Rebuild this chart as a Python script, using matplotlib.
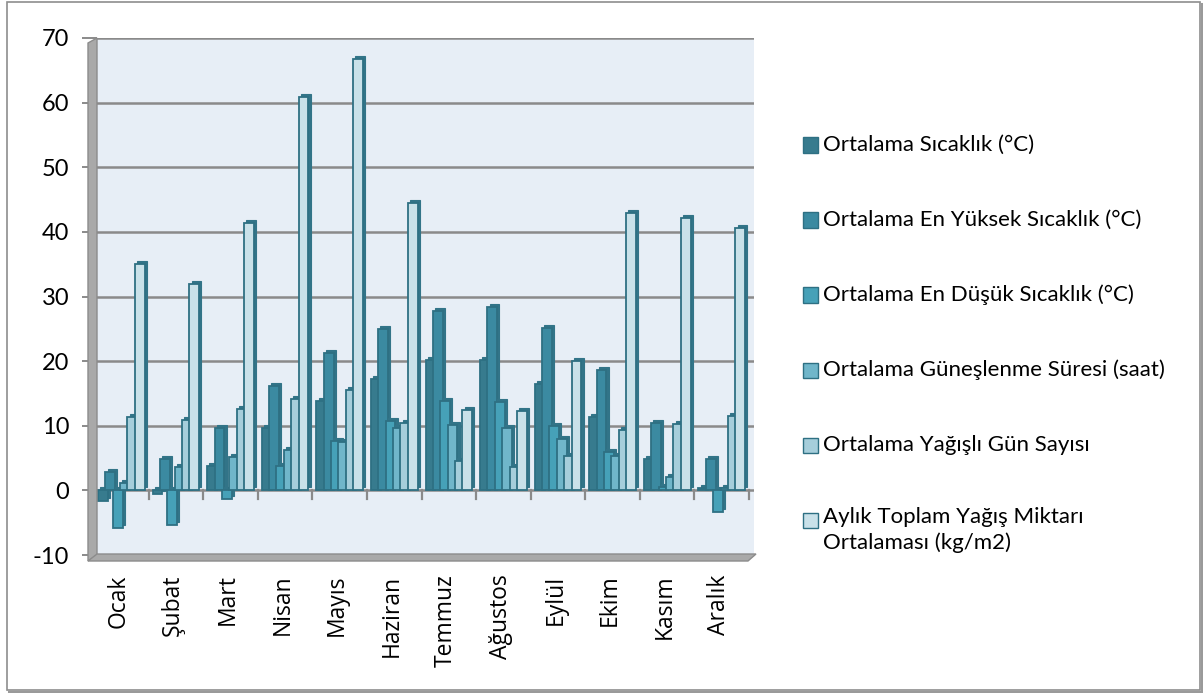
import matplotlib
matplotlib.use("Agg")
import matplotlib.pyplot as plt
from matplotlib.patches import Rectangle, Polygon
from matplotlib.lines import Line2D
import numpy as np

months = ["Ocak", "Şubat", "Mart", "Nisan", "Mayıs", "Haziran",
          "Temmuz", "Ağustos", "Eylül", "Ekim", "Kasım", "Aralık"]

series_names = [
    "Ortalama Sıcaklık (°C)",
    "Ortalama En Yüksek Sıcaklık (°C)",
    "Ortalama En Düşük Sıcaklık (°C)",
    "Ortalama Güneşlenme Süresi (saat)",
    "Ortalama Yağışlı Gün Sayısı",
    "Aylık Toplam Yağış Miktarı\nOrtalaması (kg/m2)",
]

avg_temp = [-1.6, -0.5, 3.7, 9.6, 13.9, 17.3, 20.2, 20.2, 16.5, 11.4, 4.9, 0.4]
avg_high = [2.8, 4.9, 9.7, 16.2, 21.2, 24.9, 27.8, 28.4, 25.1, 18.7, 10.5, 4.8]
avg_low = [-5.8, -5.3, -1.4, 3.7, 7.6, 10.8, 13.8, 13.6, 9.9, 5.9, 0.5, -3.4]
sunshine = [1.2, 3.6, 5.1, 6.2, 7.5, 9.6, 10.1, 9.6, 8.0, 5.3, 2.1, 0.4]
rain_days = [11.3, 10.9, 12.6, 14.2, 15.6, 10.4, 4.5, 3.6, 5.3, 9.4, 10.2, 11.5]
rain_total = [35.0, 32.0, 41.3, 60.9, 66.7, 44.5, 12.4, 12.3, 20.0, 42.9, 42.1, 40.6]

values = [avg_temp, avg_high, avg_low, sunshine, rain_days, rain_total]
y_ticks = [-10, 0, 10, 20, 30, 40, 50, 60, 70]

face_colors = ["#377B8E", "#3B8AA1", "#46A1B8", "#70B6CA", "#A6CEDB", "#C9E1E9"]
edge_color = "#2E7083"
side_color = "#327488"

W, H = 1203, 693
fig = plt.figure(figsize=(W / 100, H / 100), dpi=100)
fig.patch.set_facecolor("white")


def fx(px):
    return px / W


def fy(py):
    return 1 - py / H


# plot area (back wall)
left, right, top, bottom = 97, 754, 38, 555
ax = fig.add_axes([fx(left), fy(bottom), fx(right) - fx(left), fy(top) - fy(bottom)])
ax.set_facecolor("#E7EEF6")

x = np.arange(len(months))
ax.set_xlim(-0.445, 11.59)
ax.set_ylim(-10, 70)

for t in y_ticks:
    ax.axhline(t, color="#8A8A8A", lw=1.8, zorder=1)

# category tick marks on the zero line
for b in np.arange(len(months) + 1) - 0.5:
    ax.plot([b, b], [0, -1.3], color="#8A8A8A", lw=1.6, zorder=1)

step = 0.135
width = 0.18
dx = 2.2 / 54.6
dy = 3.0 / 6.46
for i, (vals, fc) in enumerate(zip(values, face_colors)):
    xs = x + (i - 2.5) * step
    ax.bar(xs + dx, vals, width=width, bottom=dy, color=side_color,
           edgecolor=side_color, lw=0.8, zorder=3 + 2 * i)
    ax.bar(xs, vals, width=width, color=fc, edgecolor=edge_color,
           lw=1.3, zorder=4 + 2 * i)

for s in ax.spines.values():
    s.set_visible(False)

ax.set_yticks(y_ticks)
ax.set_yticklabels([str(t) for t in y_ticks], family="Lato", fontsize=17)
ax.tick_params(axis="y", length=11, width=1.4, color="#8A8A8A", pad=9)

ax.set_xticks(x - 0.05)
ax.set_xticklabels(months, rotation=90, family="Open Sans", fontsize=16.5,
                   va="top", ha="center")
ax.tick_params(axis="x", length=0, pad=14)

# left wall and floor
wall = Polygon([(fx(88), fy(43)), (fx(97), fy(38)), (fx(97), fy(555)), (fx(88), fy(561))],
               closed=True, transform=fig.transFigure, facecolor="#A9A9A9",
               edgecolor="#8C8C8C", lw=1.0, zorder=2)
floor = Polygon([(fx(88), fy(561)), (fx(97), fy(554)), (fx(756), fy(554)), (fx(748), fy(561))],
                closed=True, transform=fig.transFigure, facecolor="#A9A9A9",
                edgecolor="#8C8C8C", lw=1.0, zorder=2)
fig.add_artist(wall)
fig.add_artist(floor)

# legend
entry_y = [145, 220, 295, 370, 445, 520]
for name, fc, yy in zip(series_names, face_colors, entry_y):
    fig.add_artist(Rectangle((fx(803), fy(yy + 7.5)), fx(15), 15 / H,
                             transform=fig.transFigure, facecolor=fc,
                             edgecolor=edge_color, lw=1.0))
    if "\n" in name:
        fig.text(fx(823), fy(yy - 13), name, family="Lato", fontsize=16,
                 va="top", ha="left", linespacing=1.35)
    else:
        fig.text(fx(823), fy(yy), name, family="Lato", fontsize=16,
                 va="center", ha="left")

# outer frame with a soft shadow on the right and bottom
fig.add_artist(Rectangle((fx(7), fy(690)), fx(1193), 688 / H,
                         transform=fig.transFigure, fill=False,
                         edgecolor="#8E8E8E", lw=1.2))
fig.add_artist(Line2D([fx(1201.5), fx(1201.5)], [fy(4), fy(691)],
                      transform=fig.transFigure, color="#9A9A9A", lw=2.2))
fig.add_artist(Line2D([fx(9), fx(1202)], [fy(691.5), fy(691.5)],
                      transform=fig.transFigure, color="#9A9A9A", lw=2.2))

fig.savefig("out.png", dpi=100, facecolor="white")
